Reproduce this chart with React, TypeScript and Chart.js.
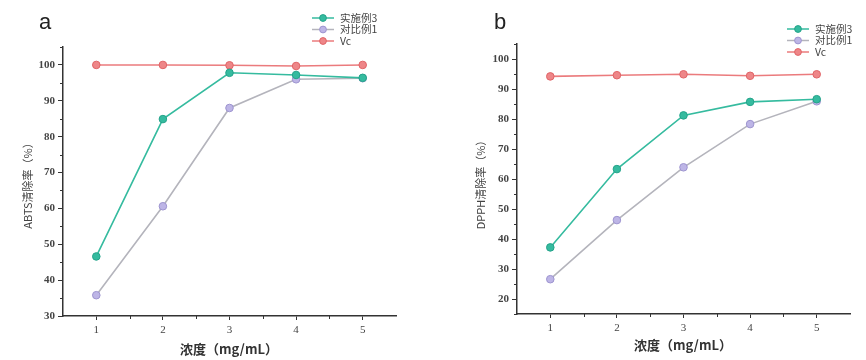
import React, { useEffect, useRef } from "react";
import { Chart, registerables } from "chart.js";

Chart.register(...registerables);

const conc = [1, 2, 3, 4, 5];
const seriesNames = ["实施例3", "对比例1", "Vc"];
const abtsEx3 = [46.6, 84.9, 97.8, 97.2, 96.4];
const abtsCmp1 = [35.8, 60.6, 88.0, 96.0, 96.3];
const abtsVc = [100, 100, 99.9, 99.7, 100];
const dpphEx3 = [37.2, 63.3, 81.2, 85.7, 86.6];
const dpphCmp1 = [26.6, 46.3, 63.9, 78.3, 85.9];
const dpphVc = [94.2, 94.6, 94.9, 94.4, 94.9];
const xTicks = [1, 2, 3, 4, 5];
const yTicksA = [30, 40, 50, 60, 70, 80, 90, 100];
const yTicksB = [20, 30, 40, 50, 60, 70, 80, 90, 100];

const styles = [
  { line: "#35bb9f", fill: "#35bb9f", border: "#25a38a" },
  { line: "#b4b4bc", fill: "#bdb5e6", border: "#9d94cf" },
  { line: "#eb7b7d", fill: "#ee8688", border: "#e06467" },
];

type PanelCfg = {
  letter: string;
  yTitle: string;
  series: number[][];
  yMin: number;
  yMax: number;
  yTicks: number[];
  yWidth: number;
  xHeight: number;
  padTop: number;
  padRight: number;
  letterX: number;
  yTitleX: number;
  yTitleY: number;
  xTitleX: number;
  xTitleY: number;
  legendX: number;
  legendY: number;
};

function Panel({ cfg, left }: { cfg: PanelCfg; left: number }) {
  const ref = useRef<HTMLCanvasElement>(null);
  useEffect(() => {
    if (!ref.current) return;
    const overlay = {
      id: "overlay",
      afterDraw(chart: any) {
        const ctx = chart.ctx;
        const xs = chart.scales.x;
        const ys = chart.scales.y;
        const area = chart.chartArea;
        ctx.save();
        ctx.strokeStyle = "#333";
        ctx.lineWidth = 1;
        for (let v = cfg.yMin; v <= cfg.yMax; v += 5) {
          if (v % 10 === 0) continue;
          const py = Math.round(ys.getPixelForValue(v)) + 0.5;
          ctx.beginPath();
          ctx.moveTo(area.left - 3, py);
          ctx.lineTo(area.left, py);
          ctx.stroke();
        }
        for (let v = 1.5; v < 5.5; v += 1) {
          const px = Math.round(xs.getPixelForValue(v)) + 0.5;
          ctx.beginPath();
          ctx.moveTo(px, area.bottom);
          ctx.lineTo(px, area.bottom + 3);
          ctx.stroke();
        }
        ctx.fillStyle = "#222";
        ctx.font = "22px 'Liberation Sans', Arial, sans-serif";
        ctx.textAlign = "center";
        ctx.textBaseline = "middle";
        ctx.fillText(cfg.letter, cfg.letterX, 23);
        ctx.save();
        ctx.translate(cfg.yTitleX, cfg.yTitleY);
        ctx.rotate(-Math.PI / 2);
        ctx.fillStyle = "#444";
        ctx.font = "11px 'Noto Sans CJK SC', sans-serif";
        ctx.fillText(cfg.yTitle, 0, 0);
        ctx.restore();
        ctx.fillStyle = "#333";
        ctx.font = "bold 13px 'Noto Sans CJK SC', serif";
        ctx.fillText("浓度（mg/mL）", cfg.xTitleX, cfg.xTitleY);
        ctx.textAlign = "left";
        ctx.font = "10.5px 'Noto Sans CJK SC', serif";
        seriesNames.forEach((name, i) => {
          const y = cfg.legendY + i * 11.5;
          const st = styles[i];
          ctx.strokeStyle = st.line;
          ctx.lineWidth = 1.5;
          ctx.beginPath();
          ctx.moveTo(cfg.legendX, y);
          ctx.lineTo(cfg.legendX + 22, y);
          ctx.stroke();
          ctx.fillStyle = st.fill;
          ctx.strokeStyle = st.border;
          ctx.lineWidth = 1;
          ctx.beginPath();
          ctx.arc(cfg.legendX + 11, y, 3.4, 0, Math.PI * 2);
          ctx.fill();
          ctx.stroke();
          ctx.fillStyle = "#444";
          ctx.fillText(name, cfg.legendX + 28, y);
        });
        ctx.restore();
      },
    };
    const chart = new Chart(ref.current, {
      type: "line",
      data: {
        datasets: cfg.series.map((vals, i) => ({
          label: seriesNames[i],
          data: conc.map((c, j) => ({ x: c, y: vals[j] })),
          borderColor: styles[i].line,
          backgroundColor: styles[i].fill,
          pointBackgroundColor: styles[i].fill,
          pointBorderColor: styles[i].border,
          pointBorderWidth: 1,
          pointRadius: 3.8,
          borderWidth: 1.6,
          tension: 0,
        })),
      },
      options: {
        animation: false,
        responsive: false,
        layout: { padding: { top: cfg.padTop, right: cfg.padRight, left: 0, bottom: 0 } },
        plugins: { legend: { display: false }, tooltip: { enabled: false } },
        scales: {
          x: {
            type: "linear",
            min: 0.5,
            max: 5.5,
            afterBuildTicks: (s: any) => {
              s.ticks = xTicks.map((v) => ({ value: v }));
            },
            afterFit: (s: any) => {
              s.height = cfg.xHeight;
            },
            grid: { display: true, drawOnChartArea: false, drawTicks: true, tickLength: 4, color: "#333", lineWidth: 1 },
            border: { display: true, color: "#333", width: 1.5 },
            ticks: {
              color: "#444",
              padding: 4,
              maxRotation: 0,
              font: { family: "'Liberation Serif', serif", size: 11 },
              callback: (v: any) => String(v),
            },
          },
          y: {
            type: "linear",
            min: cfg.yMin,
            max: cfg.yMax,
            afterBuildTicks: (s: any) => {
              s.ticks = cfg.yTicks.map((v) => ({ value: v }));
            },
            afterFit: (s: any) => {
              s.width = cfg.yWidth;
            },
            grid: { display: true, drawOnChartArea: false, drawTicks: true, tickLength: 5, color: "#333", lineWidth: 1 },
            border: { display: true, color: "#333", width: 1.5 },
            ticks: {
              color: "#444",
              padding: 3,
              font: { family: "'Liberation Serif', serif", size: 11, weight: "bold" },
              callback: (v: any) => String(v),
            },
          },
        },
      },
      plugins: [overlay],
    } as any);
    return () => chart.destroy();
  }, [cfg]);
  return (
    <div style={{ position: "absolute", left, top: 0, width: 433, height: 360 }}>
      <canvas ref={ref} width={433} height={360} style={{ width: 433, height: 360, display: "block" }} />
    </div>
  );
}

const cfgA: PanelCfg = {
  letter: "a",
  yTitle: "ABTS清除率（%）",
  series: [abtsEx3, abtsCmp1, abtsVc],
  yMin: 30,
  yMax: 105,
  yTicks: yTicksA,
  yWidth: 63,
  xHeight: 44,
  padTop: 47,
  padRight: 37,
  letterX: 45,
  yTitleX: 28,
  yTitleY: 183,
  xTitleX: 229,
  xTitleY: 349,
  legendX: 312,
  legendY: 18,
};

const cfgB: PanelCfg = {
  letter: "b",
  yTitle: "DPPH清除率（%）",
  series: [dpphEx3, dpphCmp1, dpphVc],
  yMin: 15,
  yMax: 105,
  yTicks: yTicksB,
  yWidth: 84,
  xHeight: 46,
  padTop: 44,
  padRight: 16,
  letterX: 67,
  yTitleX: 48,
  yTitleY: 182,
  xTitleX: 250,
  xTitleY: 345,
  legendX: 354,
  legendY: 29,
};

export default function App() {
  return (
    <div style={{ position: "absolute", left: 0, top: 0, width: 866, height: 360, background: "#fff" }}>
      <Panel cfg={cfgA} left={0} />
      <Panel cfg={cfgB} left={433} />
    </div>
  );
}
